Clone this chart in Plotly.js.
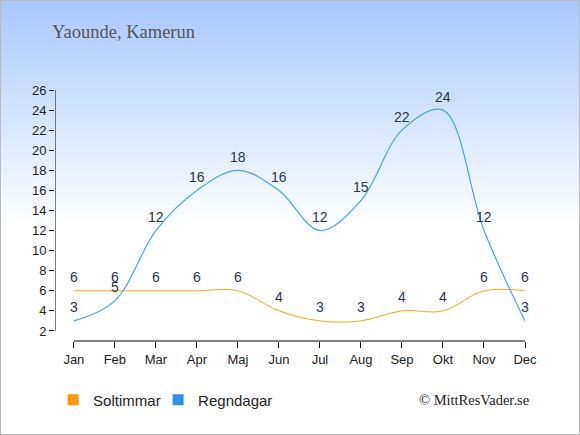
<!DOCTYPE html>
<html><head><meta charset="utf-8">
<script src="https://cdn.plot.ly/plotly-3.0.1.min.js"></script>
<style>
html,body{margin:0;padding:0;}
body{width:580px;height:435px;overflow:hidden;}
#wrap{width:578px;height:433px;border:1px solid #bbbbbb;background:linear-gradient(to bottom,#a8c8fe 0%,#ffffff 52%,#ffffff 100%);}
#chart{width:578px;height:433px;}
</style></head>
<body><div id="wrap"><div id="chart"></div></div>
<script>
const months = ["Jan","Feb","Mar","Apr","Maj","Jun","Jul","Aug","Sep","Okt","Nov","Dec"];
const soltimmar = [6,6,6,6,6,4,3,3,4,4,6,6];
const regndagar = [3,5,12,16,18,16,12,15,22,24,12,3];
const yTicks = [2,4,6,8,10,12,14,16,18,20,22,24,26];
const titleText = "Yaounde, Kamerun";
const sourceText = "© MittResVader.se";
const nameSol = "Soltimmar", nameRegn = "Regndagar";

const labelFont = {family:"Liberation Sans, Arial, sans-serif", size:14, color:"#2a3550"};
const traces = [
 {x:months, y:soltimmar, type:"scatter", mode:"lines",
  line:{color:"#f5a623", width:1, shape:"spline", smoothing:1}, showlegend:false, hoverinfo:"skip"},
 {x:months, y:regndagar, type:"scatter", mode:"lines",
  line:{color:"#4aa3f0", width:1.2, shape:"spline", smoothing:1}, showlegend:false, hoverinfo:"skip"},
 {x:[null], y:[null], type:"scatter", mode:"markers", name:nameSol, marker:{symbol:"square", size:11, color:"#ff9900"}},
 {x:[null], y:[null], type:"scatter", mode:"markers", name:nameRegn, marker:{symbol:"square", size:11, color:"#2e93e8"}},
 {x:[null], y:[null], type:"scatter", mode:"markers", name:"\u00a0", marker:{symbol:"square", size:1, color:"rgba(0,0,0,0)"}}
];
function labels(vals){
  return vals.map((v,i)=>({x:months[i], y:v, xref:"x", yref:"y", text:String(v), showarrow:false,
    yanchor:"middle", xanchor:"center", yshift:13.5, font:labelFont}));
}
const tickFont = {family:"Liberation Sans, Arial, sans-serif", size:13, color:"#222"};
const layout = {
 width:578, height:433,
 margin:{l:54, r:54, t:89, b:93},
 paper_bgcolor:"rgba(0,0,0,0)", plot_bgcolor:"rgba(0,0,0,0)",
 title:{text:titleText, xref:"container", yref:"container", x:51/578, xanchor:"left", y:1-31/433, yanchor:"middle",
   font:{family:"Liberation Serif, Georgia, serif", size:18.5, color:"#555"}},
 xaxis:{type:"category", range:[-0.46,11], showline:false, showgrid:false, zeroline:false,
   ticks:"outside", ticklen:6, tickcolor:"#000", tickwidth:1, tickfont:tickFont, fixedrange:true},
 yaxis:{range:[1.0,26], tickvals:yTicks, showline:false, showgrid:false, zeroline:false,
   ticks:"outside", ticklen:5, tickcolor:"#000", tickwidth:1, tickfont:tickFont, fixedrange:true},
 shapes:[
  {type:"line", xref:"x", yref:"y", x0:-0.46, x1:-0.46, y0:2, y1:26, line:{color:"#000", width:1}},
  {type:"line", xref:"x", yref:"paper", x0:0, x1:11, y0:0, y1:0, line:{color:"#000", width:1}}
 ],
 showlegend:true,
 legend:{orientation:"h", x:-0.004, xanchor:"left", y:-0.235, yanchor:"middle", font:{family:"Liberation Sans, Arial, sans-serif", size:15, color:"#222"},
   bgcolor:"rgba(0,0,0,0)", itemwidth:30, entrywidth:60, tracegroupgap:0},
 annotations:labels(soltimmar).concat(labels(regndagar)).concat([{text:sourceText, xref:"paper", yref:"paper", x:1.012, xanchor:"right", y:-0.235, yanchor:"middle", showarrow:false,
   font:{family:"Liberation Serif, Georgia, serif", size:14.5, color:"#222"}}])
};
Plotly.newPlot("chart", traces, layout, {displayModeBar:false, staticPlot:true});
</script></body></html>
